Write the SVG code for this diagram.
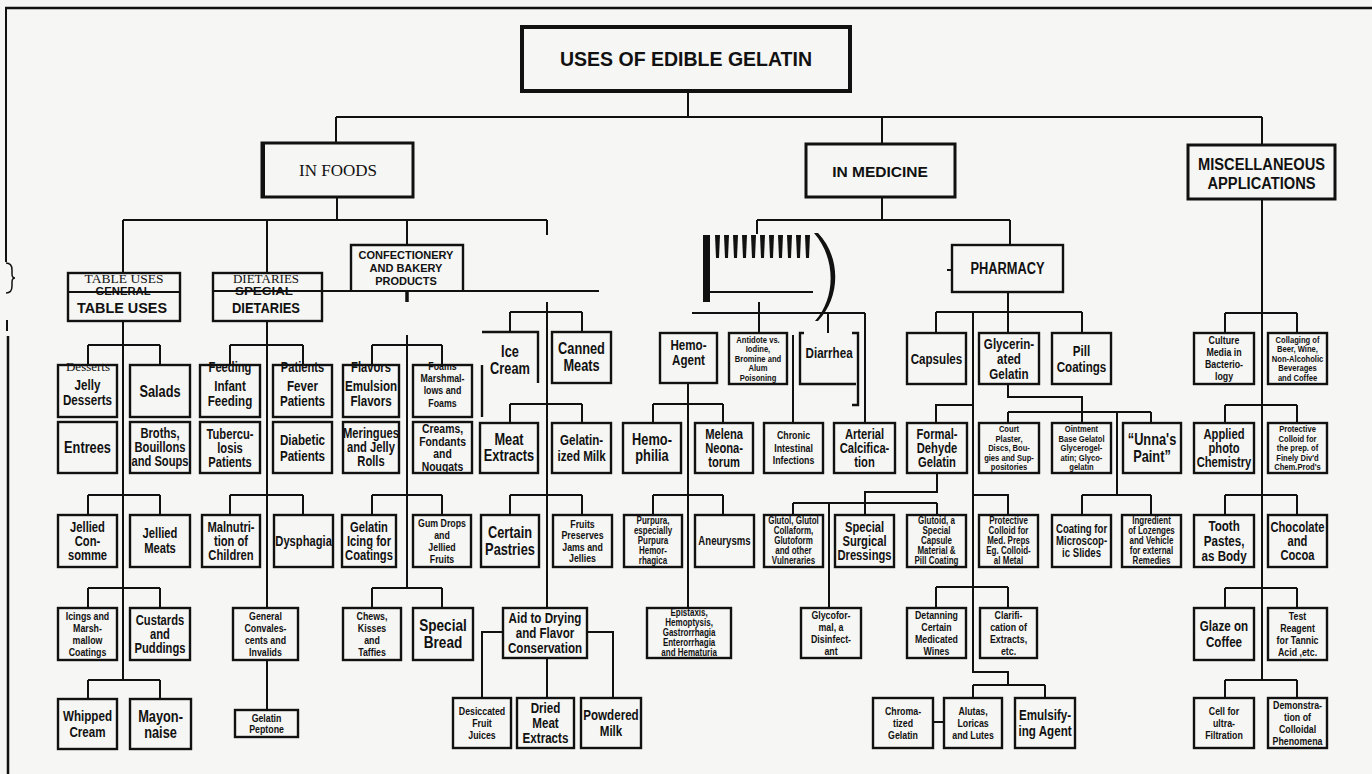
<svg xmlns="http://www.w3.org/2000/svg" width="1372" height="774" viewBox="0 0 1372 774">
<style>
.bx{fill:none;stroke:#111;stroke-width:2.4}
.ln{fill:none;stroke:#111;stroke-width:2}
.t{font-family:"Liberation Sans",Arial,sans-serif;font-weight:bold;text-anchor:middle;fill:#111;transform-box:fill-box;transform-origin:center;transform:scaleX(.8)}
.w{font-family:"Liberation Sans",Arial,sans-serif;font-weight:bold;text-anchor:middle;fill:#111}
.sf{font-family:"Liberation Serif","Times New Roman",serif;font-weight:normal;text-anchor:middle;fill:#111}
.f9{font-size:9.5px}.f10{font-size:10px}.f11{font-size:11px}.f12{font-size:12px}.f13{font-size:13px}
.f14{font-size:14px}.f15{font-size:14.5px}.f16{font-size:16px}.f17{font-size:17px}
</style>
<rect width="1372" height="774" fill="#f6f6f4"/>

<!-- page frame -->
<g id="frame" class="ln">
<path d="M5,8H1372" stroke-width="2.5"/>
<path d="M6,8V262"/>
<path d="M6,263q6,0 6,7v4q0,4 3,4q-3,0 -3,4v4q0,7 -6,7" stroke-width="1.5"/>
<path d="M7,320V331"/>
<path d="M8,336V774" stroke-width="2.5"/>
</g>

<!-- connectors -->
<g id="connectors" class="ln">
<path d="M688,91V117M336,117H1262M336,117V143M882,117V144M1262,117V145"/>
<path d="M337,197V220M123,220H547M123,220V273M267,220V273M407,220V245M547,220V235"/>
<path d="M213,291H599"/>
<path d="M407,290V302" stroke-width="3.5"/>
<path d="M407,335V588"/>
<!-- general table uses -->
<path d="M123,321V680M88,345H160M88,345V365M160,345V365M88,495H160M88,495V515M160,495V515M88,588H160M88,588V608M160,588V608M88,680H160M88,680V699M160,680V699"/>
<!-- special dietaries -->
<path d="M267,321V608M267,660V710M230,345H303M230,345V365M303,345V365M230,495H303M230,495V515M303,495V515"/>
<!-- confectionery -->
<path d="M372,345H442M372,345V365M442,345V365M372,495H442M372,495V515M442,495V515M372,588H442M372,588V608M442,588V608"/>
<!-- ice cream / canned meats -->
<path d="M547,302V608M547,658V698M510,312H582M510,312V332M582,312V332M510,404H582M510,404V423M582,404V423M510,495H582M510,495V515M582,495V515M503,632H482V698M587,632H613V698"/>
<!-- medicine -->
<path d="M882,197V220M757,220H1010M757,220V234M1010,220V245"/>
<path d="M692,313H865M759,302V333M828,313V333M865,313V423M793,335V423"/>
<path d="M688,383V608M653,404H723M653,404V423M723,404V423M653,495H723M653,495V515M723,495V515"/>
<!-- pharmacy -->
<path d="M1008,292V312M936,312H1082M936,312V333M1008,312V333M1082,312V333"/>
<path d="M973,312V672H1008V685M973,685H1045M973,685V698M1045,685V698M933,722H944"/>
<path d="M973,405H936V423M973,495H1008V515M936,587H1008M936,587V608M1008,587V608"/>
<path d="M1008,384V397H1082V412M1008,412H1151M1008,412V423M1082,412V423M1151,412V423M1117,412V495M1082,495H1151M1082,495V515M1151,495V515"/>
<path d="M937,473V492H865V515M793,503H937M793,503V515M937,503V515M829,503V608"/>
<!-- miscellaneous -->
<path d="M1262,199V680M1225,313H1297M1225,313V333M1297,313V333M1225,405H1297M1225,405V423M1297,405V423M1225,495H1297M1225,495V515M1297,495V515M1225,588H1297M1225,588V608M1297,588V608M1225,680H1297M1225,680V698M1297,680V698"/>
</g>

<!-- top level -->
<g id="n-title"><rect x="522" y="27" width="328" height="64" fill="none" stroke="#111" stroke-width="4"/><text class="w" x="686" y="66" style="font-size:19.5px">USES OF EDIBLE GELATIN</text></g>
<g id="n-in-foods"><rect x="262" y="143" width="151" height="54" fill="none" stroke="#111" stroke-width="3"/><path d="M263,143V197" stroke="#111" stroke-width="4"/><text class="sf" x="338" y="176" style="font-size:17px">IN FOODS</text></g>
<g id="n-in-medicine"><rect x="806" y="144" width="149" height="53" fill="none" stroke="#111" stroke-width="3"/><text class="w" x="880" y="177" style="font-size:15.5px">IN MEDICINE</text></g>
<g id="n-misc"><rect x="1188" y="145" width="147" height="54" fill="none" stroke="#111" stroke-width="3"/><text class="w" x="1261.5" y="170" style="font-size:16px"><tspan x="1261.5" textLength="127" lengthAdjust="spacingAndGlyphs">MISCELLANEOUS</tspan><tspan x="1261.5" dy="19" textLength="108" lengthAdjust="spacingAndGlyphs">APPLICATIONS</tspan></text></g>

<!-- foods: second level -->
<g id="n-general-table-uses"><rect class="bx" x="68" y="273" width="112" height="48"/><path class="ln" d="M68,292H180"/>
<text class="sf" x="124" y="283" style="font-size:13.5px">TABLE USES</text>
<text class="w" x="123" y="295" style="font-size:11px" textLength="55" lengthAdjust="spacingAndGlyphs">GENERAL</text>
<text class="w" x="122" y="313" style="font-size:15px" textLength="90" lengthAdjust="spacingAndGlyphs">TABLE USES</text></g>
<g id="n-special-dietaries"><rect class="bx" x="213" y="273" width="109" height="48"/>
<text class="sf" x="266" y="283" style="font-size:13px">DIETARIES</text>
<text class="w" x="264" y="295" style="font-size:11px" textLength="58" lengthAdjust="spacingAndGlyphs">SPECIAL</text>
<text class="w" x="266" y="313" style="font-size:15px" textLength="68" lengthAdjust="spacingAndGlyphs">DIETARIES</text></g>
<g id="n-confectionery"><path class="bx" d="M351,290V245H463V290"/><text class="w f11" x="406" y="259"><tspan x="406">CONFECTIONERY</tspan><tspan x="406" dy="13">AND BAKERY</tspan><tspan x="406" dy="13">PRODUCTS</tspan></text></g>

<!-- general table uses -->
<g id="n-jelly-desserts"><rect class="bx" x="58" y="365" width="59" height="52"/><text class="sf" x="88" y="371" style="font-size:13px">Desserts</text><text class="t f15" x="87.5" y="390"><tspan x="87.5">Jelly</tspan><tspan x="87.5" dy="15">Desserts</tspan></text></g>
<g id="n-salads"><rect class="bx" x="130" y="365" width="60" height="52"/><text class="t f16" x="160" y="397">Salads</text></g>
<g id="n-entrees"><rect class="bx" x="58" y="422" width="59" height="51"/><text class="t f16" x="87.5" y="453">Entrees</text></g>
<g id="n-broths"><rect class="bx" x="130" y="422" width="60" height="51"/><text class="t f14" x="160" y="438"><tspan x="160">Broths,</tspan><tspan x="160" dy="14">Bouillons</tspan><tspan x="160" dy="14">and Soups</tspan></text></g>
<g id="n-jellied-consomme"><rect class="bx" x="58" y="515" width="59" height="52"/><text class="t f14" x="87.5" y="532"><tspan x="87.5">Jellied</tspan><tspan x="87.5" dy="14">Con-</tspan><tspan x="87.5" dy="14">somme</tspan></text></g>
<g id="n-jellied-meats"><rect class="bx" x="130" y="515" width="60" height="52"/><text class="t f14" x="160" y="538"><tspan x="160">Jellied</tspan><tspan x="160" dy="15">Meats</tspan></text></g>
<g id="n-icings"><rect class="bx" x="58" y="608" width="59" height="52"/><text class="t f11" x="87.5" y="620"><tspan x="87.5">Icings and</tspan><tspan x="87.5" dy="12">Marsh-</tspan><tspan x="87.5" dy="12">mallow</tspan><tspan x="87.5" dy="12">Coatings</tspan></text></g>
<g id="n-custards"><rect class="bx" x="130" y="608" width="60" height="52"/><text class="t f14" x="160" y="625"><tspan x="160">Custards</tspan><tspan x="160" dy="14">and</tspan><tspan x="160" dy="14">Puddings</tspan></text></g>
<g id="n-whipped-cream"><rect class="bx" x="58" y="699" width="59" height="50"/><text class="t f15" x="87.5" y="721"><tspan x="87.5">Whipped</tspan><tspan x="87.5" dy="16">Cream</tspan></text></g>
<g id="n-mayonnaise"><rect class="bx" x="130" y="699" width="61" height="50"/><text class="t f16" x="160.5" y="722"><tspan x="160.5">Mayon-</tspan><tspan x="160.5" dy="16">naise</tspan></text></g>

<!-- special dietaries -->
<g id="n-infant-feeding"><rect class="bx" x="200" y="365" width="60" height="52"/><text class="t f14" x="230" y="372">Feeding</text><text class="t f15" x="230" y="391"><tspan x="230">Infant</tspan><tspan x="230" dy="15">Feeding</tspan></text></g>
<g id="n-fever-patients"><rect class="bx" x="273" y="365" width="59" height="52"/><text class="t f14" x="302.5" y="372">Patients</text><text class="t f15" x="302.5" y="391"><tspan x="302.5">Fever</tspan><tspan x="302.5" dy="15">Patients</tspan></text></g>
<g id="n-tuberculosis"><rect class="bx" x="200" y="422" width="60" height="51"/><text class="t f14" x="230" y="439"><tspan x="230">Tubercu-</tspan><tspan x="230" dy="14">losis</tspan><tspan x="230" dy="14">Patients</tspan></text></g>
<g id="n-diabetic"><rect class="bx" x="273" y="422" width="59" height="51"/><text class="t f15" x="302.5" y="445"><tspan x="302.5">Diabetic</tspan><tspan x="302.5" dy="16">Patients</tspan></text></g>
<g id="n-malnutrition"><rect class="bx" x="202" y="515" width="58" height="52"/><text class="t f14" x="231" y="532"><tspan x="231">Malnutri-</tspan><tspan x="231" dy="14">tion of</tspan><tspan x="231" dy="14">Children</tspan></text></g>
<g id="n-dysphagia"><rect class="bx" x="274" y="515" width="59" height="52"/><text class="t f14" x="303.5" y="546">Dysphagia</text></g>
<g id="n-convalescents"><rect class="bx" x="233" y="608" width="65" height="52"/><text class="t f11" x="265.5" y="620"><tspan x="265.5">General</tspan><tspan x="265.5" dy="12">Convales-</tspan><tspan x="265.5" dy="12">cents and</tspan><tspan x="265.5" dy="12">Invalids</tspan></text></g>
<g id="n-peptone"><rect class="bx" x="235" y="710" width="63" height="27"/><text class="t f11" x="266.5" y="722"><tspan x="266.5">Gelatin</tspan><tspan x="266.5" dy="11">Peptone</tspan></text></g>

<!-- confectionery and bakery -->
<g id="n-emulsion-flavors"><rect class="bx" x="343" y="365" width="56" height="52"/><text class="t f14" x="371" y="372">Flavors</text><text class="t f15" x="371" y="391"><tspan x="371">Emulsion</tspan><tspan x="371" dy="15">Flavors</tspan></text></g>
<g id="n-marshmallows"><rect class="bx" x="413" y="365" width="59" height="52"/><text class="t f11" x="442.5" y="370">Foams</text><text class="t f11" x="442.5" y="382"><tspan x="442.5">Marshmal-</tspan><tspan x="442.5" dy="12">lows and</tspan><tspan x="442.5" dy="13">Foams</tspan></text></g>
<g id="n-meringues"><rect class="bx" x="343" y="422" width="56" height="51"/><text class="t f14" x="371" y="438.5"><tspan x="371">Meringues</tspan><tspan x="371" dy="14">and Jelly</tspan><tspan x="371" dy="14">Rolls</tspan></text></g>
<g id="n-creams"><rect class="bx" x="413" y="422" width="59" height="51"/><text class="t f13" x="442.5" y="433.5"><tspan x="442.5">Creams,</tspan><tspan x="442.5" dy="12.5">Fondants</tspan><tspan x="442.5" dy="12.5">and</tspan><tspan x="442.5" dy="12.5">Nougats</tspan></text></g>
<g id="n-gelatin-icing"><rect class="bx" x="342" y="515" width="54" height="52"/><text class="t f14" x="369" y="532"><tspan x="369">Gelatin</tspan><tspan x="369" dy="14">Icing for</tspan><tspan x="369" dy="14">Coatings</tspan></text></g>
<g id="n-gum-drops"><rect class="bx" x="413" y="515" width="58" height="52"/><text class="t f11" x="442" y="527"><tspan x="442">Gum Drops</tspan><tspan x="442" dy="12">and</tspan><tspan x="442" dy="12">Jellied</tspan><tspan x="442" dy="12">Fruits</tspan></text></g>
<g id="n-chews"><rect class="bx" x="343" y="608" width="58" height="52"/><text class="t f11" x="372" y="620"><tspan x="372">Chews,</tspan><tspan x="372" dy="12">Kisses</tspan><tspan x="372" dy="12">and</tspan><tspan x="372" dy="12">Taffies</tspan></text></g>
<g id="n-special-bread"><rect class="bx" x="413" y="608" width="60" height="52"/><text class="t f17" x="443" y="631"><tspan x="443">Special</tspan><tspan x="443" dy="17">Bread</tspan></text></g>

<!-- ice cream and canned meats -->
<g id="n-ice-cream"><path class="bx" d="M482,417V365M482,332H538V383"/><text class="t f16" x="510" y="357"><tspan x="510">Ice</tspan><tspan x="510" dy="17">Cream</tspan></text></g>
<g id="n-canned-meats"><rect class="bx" x="552" y="332" width="59" height="51"/><text class="t f16" x="581.5" y="354"><tspan x="581.5">Canned</tspan><tspan x="581.5" dy="17">Meats</tspan></text></g>
<g id="n-meat-extracts"><rect class="bx" x="480" y="423" width="58" height="50"/><text class="t f16" x="509" y="445.5"><tspan x="509">Meat</tspan><tspan x="509" dy="16">Extracts</tspan></text></g>
<g id="n-gelatinized-milk"><rect class="bx" x="552" y="423" width="59" height="50"/><text class="t f15" x="581.5" y="445"><tspan x="581.5">Gelatin-</tspan><tspan x="581.5" dy="16">ized Milk</tspan></text></g>
<g id="n-certain-pastries"><rect class="bx" x="481" y="515" width="58" height="52"/><text class="t f16" x="510" y="538"><tspan x="510">Certain</tspan><tspan x="510" dy="17">Pastries</tspan></text></g>
<g id="n-fruits"><rect class="bx" x="553" y="515" width="59" height="52"/><text class="t f11" x="582.5" y="528"><tspan x="582.5">Fruits</tspan><tspan x="582.5" dy="11.5">Preserves</tspan><tspan x="582.5" dy="11.5">Jams and</tspan><tspan x="582.5" dy="11.5">Jellies</tspan></text></g>
<g id="n-aid-drying"><rect class="bx" x="503" y="608" width="84" height="50"/><text class="t f15" x="545" y="623"><tspan x="545">Aid to Drying</tspan><tspan x="545" dy="15">and Flavor</tspan><tspan x="545" dy="15">Conservation</tspan></text></g>
<g id="n-desiccated"><rect class="bx" x="453" y="698" width="58" height="50"/><text class="t f11" x="482" y="715"><tspan x="482">Desiccated</tspan><tspan x="482" dy="12">Fruit</tspan><tspan x="482" dy="12">Juices</tspan></text></g>
<g id="n-dried-meat"><rect class="bx" x="517" y="698" width="57" height="50"/><text class="t f15" x="545.5" y="713"><tspan x="545.5">Dried</tspan><tspan x="545.5" dy="15">Meat</tspan><tspan x="545.5" dy="15">Extracts</tspan></text></g>
<g id="n-powdered-milk"><rect class="bx" x="581" y="698" width="60" height="50"/><text class="t f15" x="611" y="720"><tspan x="611">Powdered</tspan><tspan x="611" dy="16">Milk</tspan></text></g>

<!-- medicine: distorted sub-heading -->
<g id="n-medicine-sub">
<rect x="703" y="235" width="7" height="67" fill="#111"/>
<g fill="#111">
<path d="M715,235h5l-1,23h-3z"/><path d="M724,235h5l-1,23h-3z"/><path d="M733,235h5l-1,23h-3z"/><path d="M742,235h5l-1,23h-3z"/><path d="M751,235h5l-1,23h-3z"/><path d="M760,235h5l-1,23h-3z"/><path d="M769,235h5l-1,23h-3z"/><path d="M778,235h5l-1,23h-3z"/><path d="M787,235h5l-1,23h-3z"/><path d="M796,235h5l-1,23h-3z"/><path d="M805,235h5l-1,23h-3z"/>
</g>
<path class="ln" d="M710,292H813"/>
<path d="M814,233C836,258 836,298 815,321L818,321C841,297 841,257 818,233Z" fill="#111"/>
</g>

<!-- medicine -->
<g id="n-hemo-agent"><rect class="bx" x="660" y="333" width="57" height="50"/><text class="t f15" x="688.5" y="350"><tspan x="688.5">Hemo-</tspan><tspan x="688.5" dy="15">Agent</tspan></text></g>
<g id="n-antidote"><rect class="bx" x="729" y="333" width="58" height="51"/><text class="t f9" x="758" y="343"><tspan x="758">Antidote vs.</tspan><tspan x="758" dy="9.5">Iodine,</tspan><tspan x="758" dy="9.5">Bromine and</tspan><tspan x="758" dy="9.5">Alum</tspan><tspan x="758" dy="9.5">Poisoning</tspan></text></g>
<g id="n-diarrhea"><path class="bx" d="M804,333H800V384H856M852,333H858V405H852"/><text class="t f15" x="829" y="358">Diarrhea</text></g>
<g id="n-hemophilia"><rect class="bx" x="623" y="423" width="58" height="50"/><text class="t f16" x="652" y="445.5"><tspan x="652">Hemo-</tspan><tspan x="652" dy="16">philia</tspan></text></g>
<g id="n-melena"><rect class="bx" x="695" y="423" width="58" height="50"/><text class="t f14" x="724" y="439"><tspan x="724">Melena</tspan><tspan x="724" dy="14">Neona-</tspan><tspan x="724" dy="14">torum</tspan></text></g>
<g id="n-chronic"><rect class="bx" x="764" y="423" width="59" height="50"/><text class="t f11" x="793.5" y="439.5"><tspan x="793.5">Chronic</tspan><tspan x="793.5" dy="12.5">Intestinal</tspan><tspan x="793.5" dy="12.5">Infections</tspan></text></g>
<g id="n-arterial"><rect class="bx" x="834" y="423" width="61" height="50"/><text class="t f14" x="864.5" y="439.5"><tspan x="864.5">Arterial</tspan><tspan x="864.5" dy="14">Calcifica-</tspan><tspan x="864.5" dy="14">tion</tspan></text></g>
<g id="n-purpura"><rect class="bx" x="624" y="515" width="58" height="52"/><text class="t f10" x="653" y="524.5"><tspan x="653">Purpura,</tspan><tspan x="653" dy="10">especially</tspan><tspan x="653" dy="10">Purpura</tspan><tspan x="653" dy="10">Hemor-</tspan><tspan x="653" dy="10">rhagica</tspan></text></g>
<g id="n-aneurysms"><rect class="bx" x="695" y="515" width="59" height="52"/><text class="t f12" x="724.5" y="545">Aneurysms</text></g>
<g id="n-epistaxis"><rect class="bx" x="647" y="608" width="84" height="50"/><text class="t f10" x="689" y="616.5"><tspan x="689">Epistaxis,</tspan><tspan x="689" dy="10">Hemoptysis,</tspan><tspan x="689" dy="10">Gastrorrhagia</tspan><tspan x="689" dy="10">Enterorrhagia</tspan><tspan x="689" dy="10">and Hematuria</tspan></text></g>
<g id="n-glutol"><rect class="bx" x="764" y="515" width="59" height="52"/><text class="t f10" x="793.5" y="524.5"><tspan x="793.5">Glutol, Glutol</tspan><tspan x="793.5" dy="10">Collaform,</tspan><tspan x="793.5" dy="10">Glutoform</tspan><tspan x="793.5" dy="10">and other</tspan><tspan x="793.5" dy="10">Vulneraries</tspan></text></g>
<g id="n-surgical"><rect class="bx" x="835" y="515" width="59" height="52"/><text class="t f14" x="864.5" y="532.5"><tspan x="864.5">Special</tspan><tspan x="864.5" dy="14">Surgical</tspan><tspan x="864.5" dy="14">Dressings</tspan></text></g>
<g id="n-glycoformal"><rect class="bx" x="801" y="608" width="60" height="50"/><text class="t f11" x="831" y="619"><tspan x="831">Glycofor-</tspan><tspan x="831" dy="12">mal, a</tspan><tspan x="831" dy="12">Disinfect-</tspan><tspan x="831" dy="12">ant</tspan></text></g>

<!-- pharmacy -->
<g id="n-pharmacy"><rect class="bx" x="952" y="245" width="111" height="47"/><path class="ln" d="M947,270H952"/><text class="w" x="1007.5" y="274" style="font-size:16px" textLength="74" lengthAdjust="spacingAndGlyphs">PHARMACY</text></g>
<g id="n-capsules"><rect class="bx" x="907" y="333" width="59" height="51"/><text class="t f15" x="936.5" y="364">Capsules</text></g>
<g id="n-glycerinated"><rect class="bx" x="979" y="333" width="60" height="51"/><text class="t f15" x="1009" y="349"><tspan x="1009">Glycerin-</tspan><tspan x="1009" dy="15">ated</tspan><tspan x="1009" dy="15">Gelatin</tspan></text></g>
<g id="n-pill-coatings"><rect class="bx" x="1052" y="333" width="59" height="51"/><text class="t f15" x="1081.5" y="356"><tspan x="1081.5">Pill</tspan><tspan x="1081.5" dy="16">Coatings</tspan></text></g>
<g id="n-formaldehyde"><rect class="bx" x="907" y="423" width="60" height="50"/><text class="t f14" x="937" y="439.5"><tspan x="937">Formal-</tspan><tspan x="937" dy="14">Dehyde</tspan><tspan x="937" dy="14">Gelatin</tspan></text></g>
<g id="n-court-plaster"><rect class="bx" x="979" y="423" width="60" height="50"/><text class="t f9" x="1009" y="432.5"><tspan x="1009">Court</tspan><tspan x="1009" dy="9.5">Plaster,</tspan><tspan x="1009" dy="9.5">Discs, Bou-</tspan><tspan x="1009" dy="9.5">gies and Sup-</tspan><tspan x="1009" dy="9.5">positories</tspan></text></g>
<g id="n-ointment"><rect class="bx" x="1052" y="423" width="59" height="50"/><text class="t f9" x="1081.5" y="432.5"><tspan x="1081.5">Ointment</tspan><tspan x="1081.5" dy="9.5">Base Gelatol</tspan><tspan x="1081.5" dy="9.5">Glycerogel-</tspan><tspan x="1081.5" dy="9.5">atin; Glyco-</tspan><tspan x="1081.5" dy="9.5">gelatin</tspan></text></g>
<g id="n-unnas-paint"><rect class="bx" x="1123" y="423" width="58" height="50"/><text class="t f16" x="1152" y="445"><tspan x="1152">“Unna's</tspan><tspan x="1152" dy="17">Paint”</tspan></text></g>
<g id="n-glutoid"><rect class="bx" x="907" y="515" width="59" height="52"/><text class="t f10" x="936.5" y="524.5"><tspan x="936.5">Glutoid, a</tspan><tspan x="936.5" dy="10">Special</tspan><tspan x="936.5" dy="10">Capsule</tspan><tspan x="936.5" dy="10">Material &amp;</tspan><tspan x="936.5" dy="10">Pill Coating</tspan></text></g>
<g id="n-protective-med"><rect class="bx" x="979" y="515" width="59" height="52"/><text class="t f10" x="1008.5" y="524.5"><tspan x="1008.5">Protective</tspan><tspan x="1008.5" dy="10">Colloid for</tspan><tspan x="1008.5" dy="10">Med. Preps</tspan><tspan x="1008.5" dy="10">Eg. Colloid-</tspan><tspan x="1008.5" dy="10">al Metal</tspan></text></g>
<g id="n-coating-slides"><rect class="bx" x="1052" y="515" width="59" height="52"/><text class="t f12" x="1081.5" y="533"><tspan x="1081.5">Coating for</tspan><tspan x="1081.5" dy="12">Microscop-</tspan><tspan x="1081.5" dy="12">ic Slides</tspan></text></g>
<g id="n-lozenges"><rect class="bx" x="1122" y="515" width="59" height="52"/><text class="t f10" x="1151.5" y="524.5"><tspan x="1151.5">Ingredient</tspan><tspan x="1151.5" dy="10">of Lozenges</tspan><tspan x="1151.5" dy="10">and Vehicle</tspan><tspan x="1151.5" dy="10">for external</tspan><tspan x="1151.5" dy="10">Remedies</tspan></text></g>
<g id="n-detanning"><rect class="bx" x="907" y="608" width="59" height="50"/><text class="t f11" x="936.5" y="619"><tspan x="936.5">Detanning</tspan><tspan x="936.5" dy="12">Certain</tspan><tspan x="936.5" dy="12">Medicated</tspan><tspan x="936.5" dy="12">Wines</tspan></text></g>
<g id="n-clarification"><rect class="bx" x="980" y="608" width="57" height="50"/><text class="t f11" x="1008.5" y="619"><tspan x="1008.5">Clarifi-</tspan><tspan x="1008.5" dy="12">cation of</tspan><tspan x="1008.5" dy="12">Extracts,</tspan><tspan x="1008.5" dy="12">etc.</tspan></text></g>
<g id="n-chromatized"><rect class="bx" x="873" y="698" width="60" height="50"/><text class="t f11" x="903" y="715"><tspan x="903">Chroma-</tspan><tspan x="903" dy="12">tized</tspan><tspan x="903" dy="12">Gelatin</tspan></text></g>
<g id="n-alutas"><rect class="bx" x="944" y="698" width="58" height="50"/><text class="t f11" x="973" y="715"><tspan x="973">Alutas,</tspan><tspan x="973" dy="12">Loricas</tspan><tspan x="973" dy="12">and Lutes</tspan></text></g>
<g id="n-emulsifying"><rect class="bx" x="1015" y="698" width="60" height="50"/><text class="t f15" x="1045" y="720"><tspan x="1045">Emulsify-</tspan><tspan x="1045" dy="16">ing Agent</tspan></text></g>

<!-- miscellaneous applications -->
<g id="n-culture"><rect class="bx" x="1194" y="333" width="60" height="51"/><text class="t f11" x="1224" y="344.5"><tspan x="1224">Culture</tspan><tspan x="1224" dy="12">Media in</tspan><tspan x="1224" dy="12">Bacterio-</tspan><tspan x="1224" dy="12">logy</tspan></text></g>
<g id="n-collaging"><rect class="bx" x="1268" y="333" width="59" height="51"/><text class="t f9" x="1297.5" y="343"><tspan x="1297.5">Collaging of</tspan><tspan x="1297.5" dy="9.5">Beer, Wine,</tspan><tspan x="1297.5" dy="9.5">Non-Alcoholic</tspan><tspan x="1297.5" dy="9.5">Beverages</tspan><tspan x="1297.5" dy="9.5">and Coffee</tspan></text></g>
<g id="n-photo"><rect class="bx" x="1194" y="423" width="60" height="50"/><text class="t f14" x="1224" y="439.5"><tspan x="1224">Applied</tspan><tspan x="1224" dy="14">photo</tspan><tspan x="1224" dy="14">Chemistry</tspan></text></g>
<g id="n-protective-chem"><rect class="bx" x="1268" y="423" width="59" height="50"/><text class="t f9" x="1297.5" y="432.5"><tspan x="1297.5">Protective</tspan><tspan x="1297.5" dy="9.5">Colloid for</tspan><tspan x="1297.5" dy="9.5">the prep. of</tspan><tspan x="1297.5" dy="9.5">Finely Div'd</tspan><tspan x="1297.5" dy="9.5">Chem.Prod's</tspan></text></g>
<g id="n-tooth"><rect class="bx" x="1194" y="515" width="60" height="52"/><text class="t f15" x="1224" y="531.5"><tspan x="1224">Tooth</tspan><tspan x="1224" dy="15">Pastes,</tspan><tspan x="1224" dy="15">as Body</tspan></text></g>
<g id="n-chocolate"><rect class="bx" x="1268" y="515" width="59" height="52"/><text class="t f14" x="1297.5" y="532.5"><tspan x="1297.5">Chocolate</tspan><tspan x="1297.5" dy="14">and</tspan><tspan x="1297.5" dy="14">Cocoa</tspan></text></g>
<g id="n-glaze"><rect class="bx" x="1194" y="608" width="60" height="52"/><text class="t f15" x="1224" y="631.5"><tspan x="1224">Glaze on</tspan><tspan x="1224" dy="16">Coffee</tspan></text></g>
<g id="n-test-reagent"><rect class="bx" x="1268" y="608" width="59" height="52"/><text class="t f11" x="1297.5" y="620"><tspan x="1297.5">Test</tspan><tspan x="1297.5" dy="12">Reagent</tspan><tspan x="1297.5" dy="12">for Tannic</tspan><tspan x="1297.5" dy="12">Acid ,etc.</tspan></text></g>
<g id="n-cell"><rect class="bx" x="1194" y="698" width="60" height="50"/><text class="t f11" x="1224" y="715"><tspan x="1224">Cell for</tspan><tspan x="1224" dy="12">ultra-</tspan><tspan x="1224" dy="12">Filtration</tspan></text></g>
<g id="n-demonstration"><rect class="bx" x="1268" y="698" width="59" height="50"/><text class="t f11" x="1297.5" y="709"><tspan x="1297.5">Demonstra-</tspan><tspan x="1297.5" dy="12">tion of</tspan><tspan x="1297.5" dy="12">Colloidal</tspan><tspan x="1297.5" dy="12">Phenomena</tspan></text></g>
</svg>
